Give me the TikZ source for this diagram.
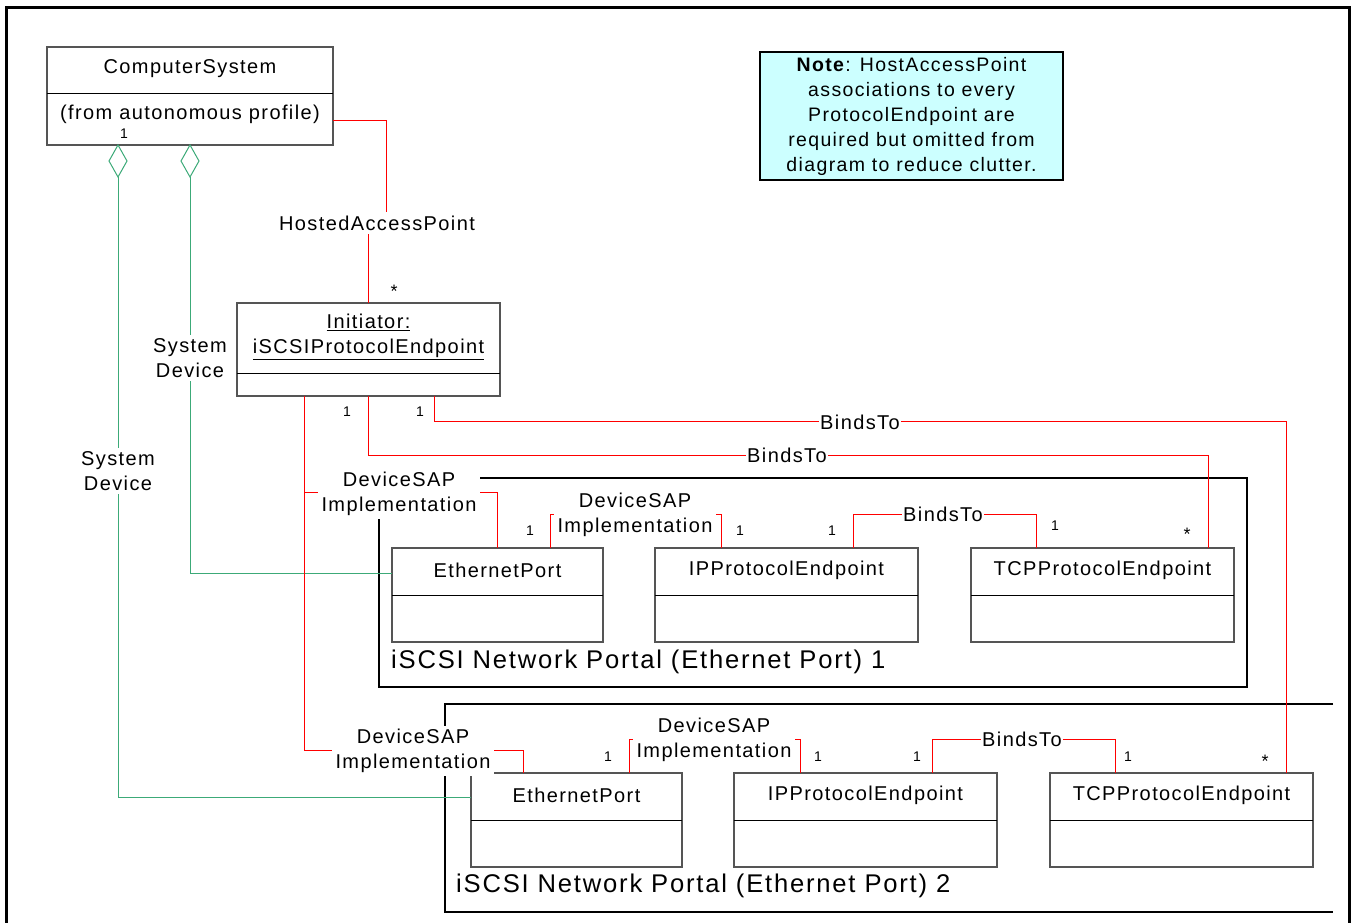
\documentclass[tikz,border=0pt]{standalone}
\usepackage{fontspec}
\setmainfont{Liberation Sans}[LetterSpace=7]
\usetikzlibrary{shapes.geometric}
\definecolor{lred}{RGB}{255,0,0}
\definecolor{lgreen}{RGB}{60,170,120}
\definecolor{notecyan}{RGB}{204,255,255}
\definecolor{boxgray}{RGB}{85,85,85}
\newcommand\fbig{\fontsize{20}{25}\selectfont}
\newcommand\fnote{\fontsize{19.5}{25}\selectfont}
\newcommand\fsmall{\fontsize{14}{16}\selectfont}
\newcommand\fstar{\fontsize{18}{18}\selectfont}
\newcommand\fportal{\fontsize{25.6}{30}\selectfont}
\newcommand\umlbox[7]{%
  \node[clsbox, minimum width={#4-#2}, minimum height={#5-#3}] (#1) at ({(#2+#4)/2},{(#3+#5)/2}) {};
  \draw[divline] (#1.west |- 0,#6) -- (#1.east |- 0,#6);
  \node[ttl] (#1-t) at ({(#2+#4)/2},{(#3+#6)/2-1}) {#7};
}
\begin{document}
\begin{tikzpicture}[x=1pt,y=-1pt,
  clsbox/.style={draw=boxgray, line width=1.3pt, inner sep=0pt, outer sep=0pt, rectangle},
  divline/.style={black, line width=1pt},
  ttl/.style={font=\fbig, inner sep=0pt, align=center},
  redl/.style={draw=lred, line width=1pt},
  grnl/.style={draw=lgreen, line width=1pt},
  lbl/.style={font=\fbig, fill=white, align=center, inner xsep=4pt, inner ysep=3pt},
  blbl/.style={font=\fbig, fill=white, inner xsep=1.5pt, inner ysep=2pt},
  mult/.style={font=\fsmall, inner sep=0pt},
  star/.style={font=\fstar, inner sep=0pt},
  portal/.style={draw=black, line width=2.5pt},
  plabel/.style={font=\fportal, inner sep=0pt, anchor=west},
  diam/.style={diamond, draw=lgreen, line width=1pt, fill=white, minimum width=18pt, minimum height=32pt, inner sep=0pt, outer sep=0pt},
  notebox/.style={draw=black, line width=2pt, fill=notecyan, font=\fnote, align=center, minimum width=303pt, minimum height=128pt, inner sep=0pt}
]
\useasboundingbox (0,0) rectangle (1352,922);
% outer frame
\draw[line width=3pt] (6,930) -- (6,7) -- (1349,7) -- (1349,930);

% portals
\draw[portal] (379,478) rectangle (1247,687);
\draw[portal] (1333,704) -- (445,704) -- (445,912) -- (1333,912);
\node[plabel] (p1) at (391,662) {iSCSI Network Portal (Ethernet Port) 1};
\node[plabel] (p2) at (456,886) {iSCSI Network Portal (Ethernet Port) 2};

% ComputerSystem
\node[clsbox, minimum width=286pt, minimum height=98pt] (cs) at (190,96) {};
\draw[divline] (cs.west |- 0,93) -- (cs.east |- 0,93);
\node[ttl] (cs-t) at (190,69) {ComputerSystem};
\node[ttl] (cs-f) at (190,114) {(from autonomous profile)};

% note
\node[notebox] (note) at (911.5,116) {\textbf{Note}: HostAccessPoint\\associations to every\\ProtocolEndpoint are\\required but omitted from\\diagram to reduce clutter.};

% classes
\umlbox{init}{237}{303}{500}{396}{373}{\underline{Initiator:}\\\underline{iSCSIProtocolEndpoint}}
\umlbox{eth1}{392}{548}{603}{642}{595}{EthernetPort}
\umlbox{ip1}{655}{548}{918}{642}{595}{IPProtocolEndpoint}
\umlbox{tcp1}{971}{548}{1234}{642}{595}{TCPProtocolEndpoint}
\umlbox{eth2}{471}{773}{682}{867}{820}{EthernetPort}
\umlbox{ip2}{734}{773}{997}{867}{820}{IPProtocolEndpoint}
\umlbox{tcp2}{1050}{773}{1313}{867}{820}{TCPProtocolEndpoint}

% diamonds and green connectors
\node[diam] (d1) at (118,161) {};
\node[diam] (d2) at (190,161) {};
\draw[grnl] (d1.south) |- (eth2.west |- 0,797);
\draw[grnl] (d2.south) |- (eth1.west |- 0,573);
\node[lbl] (sd1) at (118,471) {System\\Device};
\node[lbl] (sd2) at (190,358) {System\\Device};

% HostedAccessPoint
\draw[redl] (cs.east |- 0,120) -| (386,223);
\draw[redl] (init.north) -- (init.north |- 0,223);
\node[blbl, inner ysep=4pt] (hap) at (377,223) {HostedAccessPoint};

% DeviceSAP from initiator
\draw[redl] (init.south -| 304,0) |- (523,750) -- (eth2.north -| 523,0);
\draw[redl] (304,492) -| (eth1.north -| 497,0);
\node[lbl] (dsap1) at (399,494) {DeviceSAP\\Implementation};
\node[lbl] (dsap2) at (413,751) {DeviceSAP\\Implementation};

% BindsTo from initiator
\draw[redl] (init.south) |- (1208,455) -- (tcp1.north -| 1208,0);
\node[blbl] (b1) at (787,455) {BindsTo};
\draw[redl] (init.south -| 434,0) |- (1286,421) -- (tcp2.north -| 1286,0);
\node[blbl] (b2) at (860,422) {BindsTo};

% portal 1 inner
\draw[redl] (eth1.north -| 550,0) |- (721,514) -- (ip1.north -| 721,0);
\node[lbl] (dsap3) at (635,515) {DeviceSAP\\Implementation};
\draw[redl] (ip1.north -| 853,0) |- (1036,514) -- (tcp1.north -| 1036,0);
\node[blbl] (b3) at (943,514) {BindsTo};

% portal 2 inner
\draw[redl] (eth2.north -| 629,0) |- (800,739) -- (ip2.north -| 800,0);
\node[lbl] (dsap4) at (714,740) {DeviceSAP\\Implementation};
\draw[redl] (ip2.north -| 932,0) |- (1115,739) -- (tcp2.north -| 1115,0);
\node[blbl] (b4) at (1022,739) {BindsTo};

% multiplicities
\node[mult] (m1) at (124,134) {1};
\node[star] (m2) at (394,291) {*};
\node[mult] (m3) at (347,412) {1};
\node[mult] (m4) at (420,412) {1};
\node[mult] (m5) at (530,531) {1};
\node[mult] (m6) at (740,531) {1};
\node[mult] (m7) at (832,531) {1};
\node[mult] (m8) at (1055,526) {1};
\node[star] (m9) at (1187,534) {*};
\node[mult] (m10) at (608,757) {1};
\node[mult] (m11) at (818,757) {1};
\node[mult] (m12) at (917,757) {1};
\node[mult] (m13) at (1128,757) {1};
\node[star] (m14) at (1265,761) {*};
\end{tikzpicture}
\end{document}
